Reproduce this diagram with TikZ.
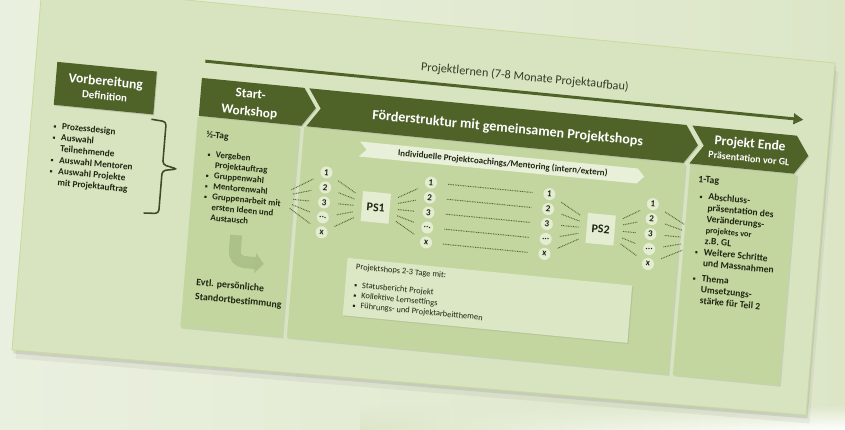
\documentclass[tikz,border=0pt]{standalone}
\usepackage{fontspec}
\setmainfont{Carlito}
\usetikzlibrary{arrows.meta,shadows,fadings}

\definecolor{hdgreen}{HTML}{4F6228}
\definecolor{bgleft}{HTML}{EAF0DF}
\definecolor{bgright}{HTML}{DCE6C7}
\definecolor{slidebg}{HTML}{D8E4BF}
\definecolor{slideedge}{HTML}{C9DA9E}
\definecolor{panelgreen}{HTML}{C4D69F}
\definecolor{paleboxes}{HTML}{E4EDD2}
\definecolor{shopgreen}{HTML}{DCE7C5}
\definecolor{bannergreen}{HTML}{E9F0DA}
\definecolor{txtdark}{HTML}{1F2612}
\definecolor{dotgreen}{HTML}{56663A}
\definecolor{bendgreen}{HTML}{AABF87}
\definecolor{bracegreen}{HTML}{3E4A26}

\newcommand{\sqbul}{\makebox[0.9em][l]{\raisebox{0.28ex}{\rule{1.5pt}{1.5pt}}}}
\newcommand{\bulind}{\hspace*{0.9em}}

\begin{document}
\begin{tikzpicture}[
  head/.style={fill=hdgreen, drop shadow={shadow xshift=0.6pt, shadow yshift=-0.8pt, opacity=0.3}},
  headtext/.style={text=white, font=\bfseries, align=center, inner sep=0pt},
  panel/.style={fill=panelgreen, drop shadow={shadow xshift=1pt, shadow yshift=-1pt, opacity=0.2}},
  bodytext/.style={text=txtdark, align=left, inner sep=0pt, anchor=north west},
  num/.style={circle, fill=paleboxes, minimum size=0.3cm, inner sep=0pt, text=txtdark, font=\fontsize{6.5}{7}\selectfont\bfseries},
  psbox/.style={fill=paleboxes, minimum width=0.7cm, minimum height=0.75cm, inner sep=0pt, text=txtdark, font=\fontsize{8.5}{9}\selectfont\bfseries},
  fan/.style={draw=dotgreen, line width=0.7pt, dash pattern=on 0.6pt off 0.6pt, shorten <=0.2cm, shorten >=0.2cm},
  longdots/.style={fan, shorten <=0.27cm, shorten >=0.27cm},
  bracket/.style={draw=bracegreen, line width=1.1pt, rounded corners=2.5pt}
]
\useasboundingbox (0,0) rectangle (21.125,10.725);

% Background
\fill[left color=bgleft, right color=bgright] (0,0) rectangle (21.125,10.725);
\shade[left color=bgright, right color=white, path fading=north] (9,0) rectangle (21.125,0.6);

\begin{scope}[cm={0.995,-0.0966,0.0822,0.9973,(1.05cm,11.075cm)}, x=0.25cm, y=0.25cm, transform shape]

% Slide
\fill[slidebg, draw=slideedge, line width=0.6pt,
  drop shadow={shadow xshift=2.5pt, shadow yshift=-6pt, opacity=0.1},
  drop shadow={shadow xshift=1pt, shadow yshift=-2.5pt, opacity=0.2}] (0,0) -- (79.7,0) -- (79.7,-35.3) -- (0,-36.5) -- cycle;

% Timeline
\coordinate (plstart) at (16.9,-5.9);
\coordinate (plend) at (77.0,-5.95);
\draw[hdgreen, line width=2.1pt, -{Triangle[length=7pt,width=7.5pt]}] (plstart) -- (plend);
\node[text=txtdark!90, font=\fontsize{8.7}{10}\selectfont, inner sep=0pt] (pl) at (48.9,-4.4) {Projektlernen (7-8 Monate Projektaufbau)};

% Panels
\fill[panel] (16.6,-11.5) rectangle (26.8,-32.6);
\fill[panel] (27.3,-11.5) rectangle (65.6,-32.6);
\fill[panel] (66.1,-11.5) rectangle (76.8,-32.6);

% Headers
\node[head, headtext, minimum width=2.5cm, minimum height=1.075cm, font=\fontsize{9.7}{10}\selectfont\bfseries] (vorb) at (7.15,-9.55) {Vorbereitung\\{\fontsize{7.8}{10}\selectfont Definition}};
\fill[head] (16.7,-7.6) -- (27.0,-7.6) -- (28.3,-9.5) -- (27.0,-11.4) -- (16.7,-11.4) -- cycle;
\node[headtext, font=\fontsize{9.4}{12.4}\selectfont\bfseries] (startws) at (21.7,-9.7) {Start-\\Workshop};
\fill[head] (27.5,-7.6) -- (65.4,-7.6) -- (66.7,-9.5) -- (65.4,-11.4) -- (27.5,-11.4) -- (28.8,-9.5) -- cycle;
\node[headtext, font=\fontsize{10}{12}\selectfont\bfseries] (foerder) at (47.6,-9.7) {Förderstruktur mit gemeinsamen Projektshops};
\fill[head] (66.0,-7.6) -- (76.5,-7.6) -- (77.8,-9.5) -- (76.5,-11.4) -- (66.0,-11.4) -- (67.3,-9.5) -- cycle;
\node[headtext, font=\fontsize{9.6}{10}\selectfont\bfseries] (ende) at (71.9,-9.5) {Projekt Ende\\{\fontsize{7.1}{10}\selectfont Präsentation vor GL}};

% Vorbereitung
\node[bodytext, font=\fontsize{6.6}{8}\selectfont\bfseries] (vorliste) at (2.3,-13.4) {\sqbul Prozessdesign\\ \sqbul Auswahl\\ \bulind Teilnehmende\\ \sqbul Auswahl Mentoren\\ \sqbul Auswahl Projekte\\ \bulind mit Projektauftrag};
\draw[bracket] (12.0,-12.2) -- (13.5,-12.3) -- (13.5,-16.6) -- (15.0,-16.9) -- (13.5,-17.2) -- (13.5,-21.5) -- (12.0,-21.6);

% Start-Workshop
\node[bodytext, font=\fontsize{6.8}{7.5}\selectfont\bfseries] (halbtag) at (17.6,-12.8) {½-Tag};
\node[bodytext, font=\fontsize{6.3}{7.5}\selectfont\bfseries] (startliste) at (17.9,-14.75) {\sqbul Vergeben\\ \bulind Projektauftrag\\ \sqbul Gruppenwahl\\ \sqbul Mentorenwahl\\ \sqbul Gruppenarbeit mit\\ \bulind ersten Ideen und\\ \bulind Austausch};
\coordinate (bendtop) at (21.4,-22.9);
\coordinate (bendend) at (24.4,-25.5);
\draw[bendgreen, opacity=0.9, line width=0.3cm, rounded corners=0.25cm, -{Triangle[length=0.22cm,width=0.5cm]}] (bendtop) |- (bendend);
\node[bodytext, font=\fontsize{7}{10.3}\selectfont\bfseries] (standort) at (17.8,-27.55) {Evtl. persönliche\\Standortbestimmung};

% Coaching banner
\fill[bannergreen] (33.0,-12.4) -- (60.9,-12.4) -- (61.6,-13.15) -- (60.9,-13.9) -- (33.0,-13.9) -- (33.7,-13.15) -- cycle;
\node[text=txtdark, font=\fontsize{6.4}{7}\selectfont\bfseries, inner sep=0pt] (banner) at (47.4,-13.2) {Individuelle Projektcoachings/Mentoring (intern/extern)};

% Nodes
\coordinate (fanL) at (25.0,-18.8);
\coordinate (fanR) at (68.5,-18.8);

\node[num] (a1) at (29.9,-15.8) {1};
\node[num] (a2) at (29.9,-17.3) {2};
\node[num] (a3) at (29.9,-18.8) {3};
\node[num] (a4) at (29.9,-20.3) {...};
\node[num] (a5) at (29.9,-21.8) {x};

\node[psbox] (PS1) at (35.1,-18.8) {PS1};

\node[num] (b1) at (40.4,-15.8) {1};
\node[num] (b2) at (40.4,-17.3) {2};
\node[num] (b3) at (40.4,-18.8) {3};
\node[num] (b4) at (40.4,-20.3) {...};
\node[num] (b5) at (40.4,-21.8) {x};

\node[num] (c1) at (52.3,-15.8) {1};
\node[num] (c2) at (52.3,-17.3) {2};
\node[num] (c3) at (52.3,-18.8) {3};
\node[num] (c4) at (52.3,-20.3) {...};
\node[num] (c5) at (52.3,-21.8) {x};

\node[psbox] (PS2) at (57.7,-18.8) {PS2};

\node[num] (d1) at (62.7,-15.8) {1};
\node[num] (d2) at (62.7,-17.3) {2};
\node[num] (d3) at (62.7,-18.8) {3};
\node[num] (d4) at (62.7,-20.3) {...};
\node[num] (d5) at (62.7,-21.8) {x};

% Edges
\draw[fan, shorten <=0.45cm] (fanL) -- (a1);
\draw[fan, shorten <=0.45cm] (fanL) -- (a2);
\draw[fan, shorten <=0.45cm] (fanL) -- (a3);
\draw[fan, shorten <=0.45cm] (fanL) -- (a4);
\draw[fan, shorten <=0.45cm] (fanL) -- (a5);

\draw[fan] (a1) -- (PS1);
\draw[fan] (a2) -- (PS1);
\draw[fan] (a3) -- (PS1);
\draw[fan] (a4) -- (PS1);
\draw[fan] (a5) -- (PS1);

\draw[fan] (PS1) -- (b1);
\draw[fan] (PS1) -- (b2);
\draw[fan] (PS1) -- (b3);
\draw[fan] (PS1) -- (b4);
\draw[fan] (PS1) -- (b5);

\draw[longdots] (b1) -- (c1);
\draw[longdots] (b2) -- (c2);
\draw[longdots] (b3) -- (c3);
\draw[longdots] (b4) -- (c4);
\draw[longdots] (b5) -- (c5);

\draw[fan] (c1) -- (PS2);
\draw[fan] (c2) -- (PS2);
\draw[fan] (c3) -- (PS2);
\draw[fan] (c4) -- (PS2);
\draw[fan] (c5) -- (PS2);

\draw[fan] (PS2) -- (d1);
\draw[fan] (PS2) -- (d2);
\draw[fan] (PS2) -- (d3);
\draw[fan] (PS2) -- (d4);
\draw[fan] (PS2) -- (d5);

\draw[fan, shorten >=0.7cm] (d1) -- (fanR);
\draw[fan, shorten >=0.7cm] (d2) -- (fanR);
\draw[fan, shorten >=0.7cm] (d3) -- (fanR);
\draw[fan, shorten >=0.7cm] (d4) -- (fanR);
\draw[fan, shorten >=0.7cm] (d5) -- (fanR);

% Projektshops
\fill[shopgreen, drop shadow={shadow xshift=0.8pt, shadow yshift=-0.8pt, opacity=0.2}] (32.7,-24.1) rectangle (61.3,-29.85);
\node[bodytext, font=\fontsize{6}{7.3}\selectfont] (shoptext) at (33.6,-24.55) {Projektshops 2-3 Tage mit:\\[5.5pt] \sqbul Statusbericht Projekt\\ \sqbul Kollektive Lernsettings\\ \sqbul Führungs- und Projektarbeitthemen};

% Projekt Ende
\node[bodytext, font=\fontsize{7}{7.8}\selectfont\bfseries] (eintag) at (67.0,-12.5) {1-Tag};
\node[bodytext, font=\fontsize{6.8}{7.9}\selectfont\bfseries] (endeliste) at (67.3,-14.15) {\sqbul Abschluss-\\ \bulind präsentation des\\ \bulind Veränderungs-\\ \bulind{\fontsize{6}{7.9}\selectfont projektes vor}\\ \bulind z.B. GL\\ \sqbul Weitere Schritte\\ \bulind und Massnahmen\\[3pt] \sqbul Thema\\ \bulind Umsetzungs-\\ \bulind stärke für Teil 2};

\end{scope}
\end{tikzpicture}
\end{document}
